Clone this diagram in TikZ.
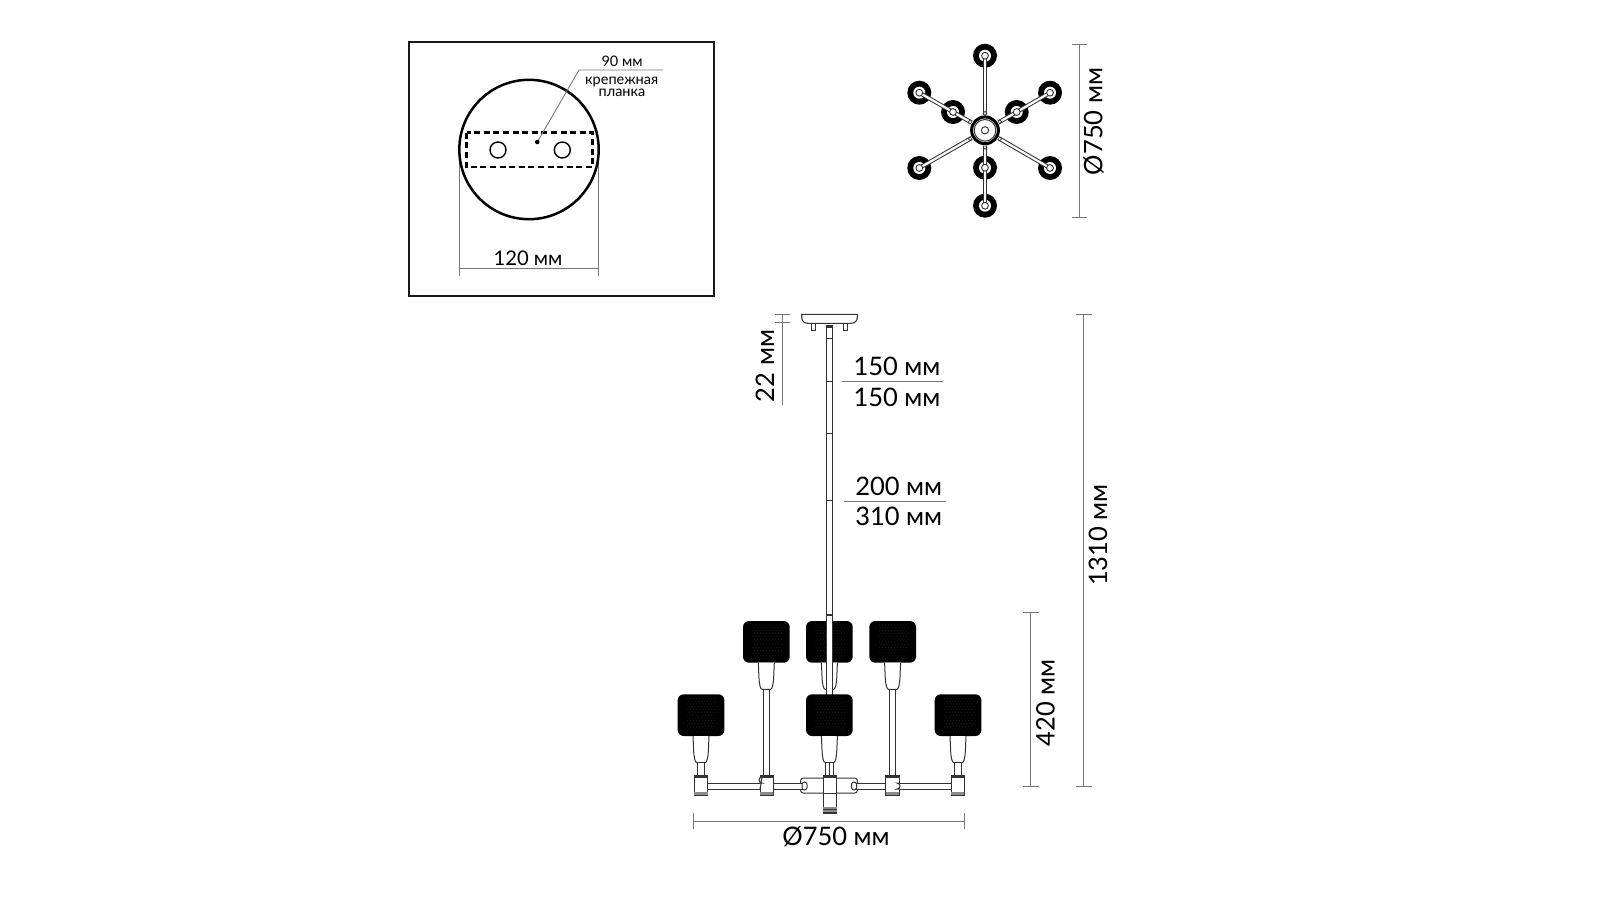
\documentclass[tikz,border=0pt]{standalone}
\usepackage{fontspec}
\setmainfont{Lato}
\usetikzlibrary{calc}
\definecolor{dimgr}{HTML}{777777}
\definecolor{edge}{HTML}{333333}
\tikzset{
  dimline/.style={draw=dimgr,line width=1pt},
  lab/.style={inner sep=0pt,text=black,font=\fontsize{25.5}{26}\selectfont},
  labv/.style={lab,rotate=90},
  small/.style={inner sep=0pt,text=black,font=\fontsize{14.5}{15}\selectfont},
  tube/.style={fill=white,draw=edge,line width=1pt},
  hole/.style={fill=white,draw=edge,line width=0.9pt},
  band/.style={fill=edge,draw=none},
}
\newcommand{\lampshade}[2]{% left, top
  \fill[black,rounded corners=6pt] (#1,#2) rectangle ++(46.7,41.7);
  \foreach \i in {0,...,9}{\foreach \j in {0,...,12}{
    \fill[black!88] ({#1+10+\i*3+mod(\j,2)*1.5},{#2+4+\j*2.8}) circle (0.55);}}
}
\newcommand{\lampsocket}[2]{% centre x, top y
  \fill[white] (#1-8,#2) -- (#1-7.4,#2+14) .. controls (#1-7,#2+22) and (#1-6,#2+26.7) .. (#1-4,#2+26.7) -- (#1+4,#2+26.7) .. controls (#1+6,#2+26.7) and (#1+7,#2+22) .. (#1+7.4,#2+14) -- (#1+8,#2) -- cycle;
  \draw[edge,line width=1pt] (#1-8,#2) -- (#1-7.4,#2+14) .. controls (#1-7,#2+22) and (#1-6,#2+26.7) .. (#1-4,#2+26.7) -- (#1+4,#2+26.7) .. controls (#1+6,#2+26.7) and (#1+7,#2+22) .. (#1+7.4,#2+14) -- (#1+8,#2);
}
\newcommand{\joint}[1]{%
  \draw[fill=white,draw=edge,line width=1pt] (#1-6.7,775.7) rectangle (#1+6.7,795.7);
  \fill[band] (#1-6.7,775.2) rectangle (#1+6.7,778);
  \fill[black!45] (#1-6.7,791.5) rectangle (#1+6.7,796);
  \fill[band] (#1-6.7,794.8) rectangle (#1+6.7,796);
}
\begin{document}
\begin{tikzpicture}[x=1pt,y=-1pt]
\useasboundingbox (0,0) rectangle (1600,900);
\fill[white] (0,0) rectangle (1600,900);

% --- mounting plate inset
\draw[black!90,line width=1.5pt] (409,42) rectangle (714,296);
\draw[dimgr,line width=0.9pt] (459.3,150) -- (459.3,276);
\draw[dimgr,line width=0.9pt] (598.7,150) -- (598.7,276);
\draw[dimgr,line width=0.9pt] (459.3,268.3) -- (598.7,268.3);
\node[lab,font=\fontsize{20.2}{21}\selectfont] (t120) at (528,258) {120 мм};
\node[draw=black,line width=2.5pt,circle,minimum size=139.4pt,inner sep=0pt] (plate) at (529,149.5) {};
\draw[black,line width=2.6pt,dash pattern=on 6pt off 3.6pt] (466.7,132.7) rectangle (592.7,167);
\node[hole,draw=black,line width=1.4pt,circle,minimum size=16pt,inner sep=0pt] (hl) at (498,150) {};
\node[hole,draw=black,line width=1.4pt,circle,minimum size=16pt,inner sep=0pt] (hr) at (562.3,150) {};
\node[fill=black,circle,minimum size=4.6pt,inner sep=0pt] (dot) at (537.3,142) {};
\coordinate (lk) at (579,70);
\coordinate (le) at (663,70);
\draw[dimgr,line width=0.9pt] (dot) -- (lk) -- (le);
\node[small] (t90) at (622,61.5) {90 мм};
\node[small] (tk) at (621.7,82) {крепежная};
\node[small] (tp) at (622,93) {планка};

% --- top view
\coordinate (hub) at (985,130.3);
\foreach \n/\x/\y in {a/985/55.7,b/919.3/92.7,c/919.3/168,d/1050/92.7,e/1050/168,f/985/205.7}
  \coordinate (\n) at (\x,\y);
\foreach \n/\x/\y in {g/953/112,h/1016.7/112,i/985/167.7}
  \coordinate (\n) at (\x,\y);
\foreach \n in {a,b,c,d,e,f,g,h,i}{
  \fill[black] (\n) circle (12);
  \fill[white] (\n) circle (6);
}
\foreach \n in {a,b,c,d,e,f}{
  \draw[edge,line width=4.2pt] (hub) -- (\n);
  \draw[white,line width=2.2pt] (hub) -- (\n);
}
\foreach \n in {a,b,c,d,e,f,g,h,i}
  \draw[fill=white,draw=edge,line width=0.9pt] (\n) circle (3.4);
\foreach \n in {a,b,c,d,e,f}
  \draw[fill=white,draw=edge,line width=0.7pt] ($(hub)!17pt!(\n)$) circle (1.9);
\fill[white] (hub) circle (15.5);
\draw[black,line width=3pt] (hub) circle (13.4);
\draw[edge,line width=1pt] (hub) circle (10.8);
\draw[fill=white,draw=edge,line width=0.9pt] (hub) circle (3.6);
\draw[dimline] (1079.3,44.3) -- (1079.3,217.3);
\draw[dimline] (1071.5,44.3) -- (1087,44.3);
\draw[dimline] (1071.5,217.3) -- (1087,217.3);
\node[labv] (tdia) at (1093.5,121.5) {Ø750 мм};

% --- side view: dimensions
\draw[dimline] (782.3,314) -- (782.3,405);
\draw[dimline] (775,314) -- (790,314);
\draw[dimline] (775,322.7) -- (790,322.7);
\node[labv] (t22) at (765,366) {22 мм};
\draw[dimline] (841.7,381.7) -- (943.3,381.7);
\node[lab] (t150a) at (897,366.5) {150 мм};
\node[lab] (t150b) at (897,397) {150 мм};
\draw[dimline] (844,501) -- (946,501);
\node[lab] (t200) at (898.7,486) {200 мм};
\node[lab] (t310) at (898.7,516) {310 мм};
\draw[dimline] (1083.7,314) -- (1083.7,786);
\draw[dimline] (1076,314) -- (1091.5,314);
\draw[dimline] (1076,786) -- (1091.5,786);
\node[labv] (t1310) at (1098,535) {1310 мм};
\draw[dimline] (1030.7,612.7) -- (1030.7,786);
\draw[dimline] (1023,612.7) -- (1038.5,612.7);
\draw[dimline] (1023,786) -- (1038.5,786);
\node[labv] (t420) at (1045.5,703) {420 мм};
\draw[dimline] (693.3,821) -- (964.3,821);
\draw[dimline] (693.3,813.3) -- (693.3,829.3);
\draw[dimline] (964.3,813.3) -- (964.3,829.3);
\node[lab] (tbot) at (836,836.7) {Ø750 мм};

% --- canopy
\draw[tube] (811,322) rectangle (815,330.7);
\draw[tube] (843.8,322) rectangle (847.8,330.7);
\draw[fill=white,draw=edge,line width=1.1pt] (801.7,314.3) -- (857.3,314.3) -- (857.3,317) .. controls (857.3,321) and (855,323.3) .. (851,323.3) -- (808,323.3) .. controls (804,323.3) and (801.7,321) .. (801.7,317) -- cycle;

% --- upper tier
\lampshade{743}{621}
\lampshade{806}{621}
\lampshade{869.3}{621}
\lampsocket{766.3}{662.7}
\lampsocket{829.4}{662.7}
\lampsocket{892.6}{662.7}
\draw[tube] (763.3,689.4) rectangle (769.3,775.7);
\draw[tube] (889.6,689.4) rectangle (895.6,775.7);

% --- central rod
\draw[tube] (826.4,325) rectangle (832.8,696);
\fill[band] (826,325) rectangle (833.2,327.7);
\draw[edge,line width=1pt] (826.4,338) -- (832.8,338);
\foreach \y in {381.7,433.3,500.7,615}
  \draw[edge,line width=1.5pt] (826.4,\y) -- (832.8,\y);

% --- lower tier
\lampshade{677.7}{694.3}
\lampshade{806}{694.3}
\lampshade{934.7}{694.3}
\lampsocket{701}{736}
\lampsocket{829.4}{736}
\lampsocket{958}{736}
\draw[tube] (697.7,762.7) rectangle (704.3,775.7);
\draw[tube] (954.7,762.7) rectangle (961.3,775.7);
\draw[tube] (825.6,762.7) rectangle (833.2,775.7);
\draw[edge,line width=0.9pt] (829.4,762.7) -- (829.4,775.7);

% --- arms
\draw[fill=white,draw=edge,line width=1pt,rounded corners=2.5pt] (800.7,778) rectangle (857.3,793);
\draw[tube] (707.7,783) rectangle (763,789);
\draw[tube] (773.3,783) rectangle (803,789);
\draw[tube] (855,783) rectangle (885.7,789);
\draw[tube] (896,783) rectangle (951,789);
\joint{701}
\joint{766.7}
\joint{892.3}
\joint{957.7}
\draw[fill=white,draw=edge,line width=1pt] (760,783) -- (762,783) arc (-90:90:-3) -- (760,789);
\draw[fill=white,draw=edge,line width=1pt] (899,783) -- (897,783) arc (-90:90:3) -- (899,789);
\draw[fill=white,draw=edge,line width=1pt,rounded corners=2.5pt] (802,782) rectangle (807,790);
\draw[fill=white,draw=edge,line width=1pt,rounded corners=2.5pt] (851.5,782) rectangle (856.5,790);
% --- centre block
\draw[fill=white,draw=edge,line width=1pt] (823.2,775.7) rectangle (836.6,813.3);
\fill[band] (823.2,775.2) rectangle (836.6,778);
\draw[edge,line width=1.5pt] (823.2,793.5) -- (836.6,793.5);
\fill[black!45] (823.2,806.5) rectangle (836.6,813.3);
\fill[band] (823.2,808.5) rectangle (836.6,810.2);
\fill[band] (823.2,811.7) rectangle (836.6,813.5);
\end{tikzpicture}
\end{document}
